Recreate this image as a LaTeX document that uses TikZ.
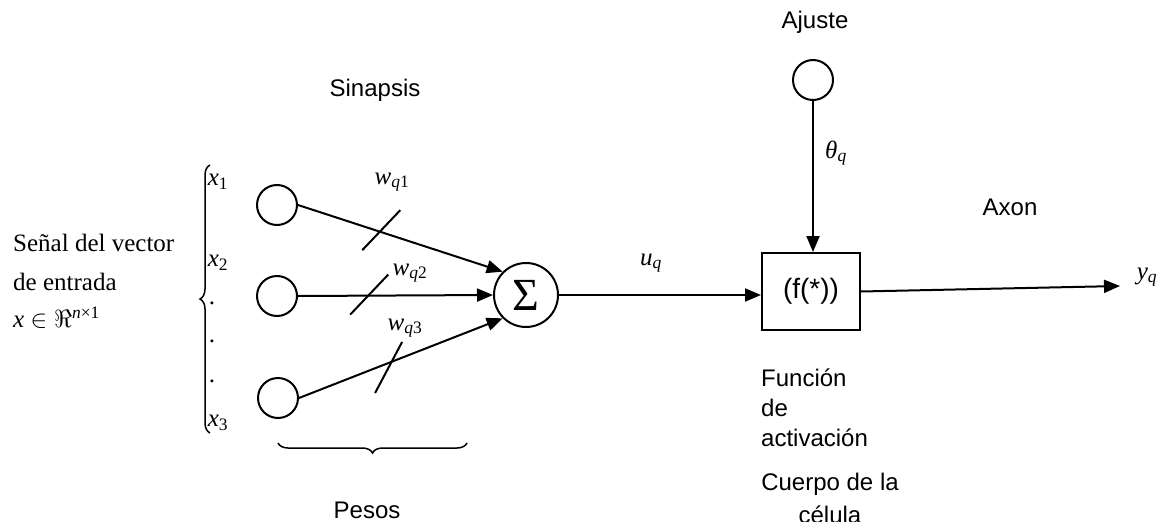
\documentclass[tikz,border=0pt]{standalone}
\usepackage{fontspec}
\setmainfont{Liberation Serif}
\setsansfont{Liberation Sans}
\usetikzlibrary{arrows.meta,decorations.pathreplacing,calc}

% italic variable with a subscript
\newcommand{\sv}[2]{\textit{#1}\textsubscript{#2}}

\begin{document}
\begin{tikzpicture}[x=1pt,y=-1pt,
  wire/.style={line width=2pt},
  link/.style={wire,-{Triangle[length=16pt,width=13pt]}},
  unit/.style={circle,draw,line width=2pt,minimum size=40pt,inner sep=0pt},
  sumnode/.style={circle,draw,line width=2pt,minimum size=64pt,inner sep=0pt,
    font=\fontsize{46}{50}\selectfont},
  actbox/.style={rectangle,draw,line width=2pt,minimum width=98pt,minimum height=77pt,
    inner sep=0pt,font=\sffamily\fontsize{28}{32}\selectfont},
  lbl/.style={font=\sffamily\fontsize{24}{30}\selectfont,inner sep=0pt},
  mlbl/.style={font=\fontsize{25}{38}\selectfont,inner sep=0pt},
  slash/.style={line width=2pt},
  bracel/.style={line width=1.5pt,decorate,decoration={brace,amplitude=10pt}}]

\useasboundingbox (0,0) rectangle (1170,522);
\clip (0,0) rectangle (1170,522);

% input signal description
\node[mlbl,anchor=west] (sig1) at (13,243) {Señal del vector};
\node[mlbl,anchor=west] (sig2) at (13,282) {de entrada};
\node[mlbl,anchor=west] (sig3) at (13,318) {\textit{x} $\in\Re$\textsuperscript{\textit{n}×1}};

% input vector components
\draw[bracel] (210,433) -- (210,165);
\node[mlbl] (x1) at (218,182) {\sv{x}{1}};
\node[mlbl] (x2) at (218,263) {\sv{x}{2}};
\node[mlbl] (d1) at (212,303) {.};
\node[mlbl] (d2) at (212,341) {.};
\node[mlbl] (d3) at (212,381) {.};
\node[mlbl] (x3) at (218,423) {\sv{x}{3}};

% input units
\node[unit] (c1) at (277,205) {};
\node[unit] (c2) at (277,296) {};
\node[unit] (c3) at (278,398) {};

% summing junction
\node[sumnode] (s) at (526,295) {Σ};

% synapses with weights
\draw[link] (c1.east) -- coordinate[pos=0.407] (m1) (s.north west);
\draw[link] (c2.east) -- coordinate[pos=0.365] (m2) (s.west);
\draw[link] (c3.east) -- coordinate[pos=0.44] (m3) (s.south west);
\draw[slash] ($(m1)+(-19,18)$) -- ($(m1)+(19,-22)$);
\draw[slash] ($(m2)+(-19,19)$) -- ($(m2)+(19,-21)$);
\draw[slash] ($(m3)+(-13.5,30)$) -- ($(m3)+(13.5,-21)$);
\node[mlbl] (w1) at (392,182) {\sv{w}{\textit{q}1}};
\node[mlbl] (w2) at (410,273) {\sv{w}{\textit{q}2}};
\node[mlbl] (w3) at (405,328) {\sv{w}{\textit{q}3}};

\node[lbl] (sin) at (375,90) {Sinapsis};
\draw[bracel] (467,443) -- (278,443);
\node[lbl] (pes) at (367,510) {Pesos};

% activation block and bias
\node[actbox] (box) at (811,291.5) {(f(*))\hspace{18pt}};
\node[unit] (aj) at (813,80) {};
\node[lbl] (ajl) at (815,22) {Ajuste};
\draw[link] (aj.south) -- (aj.south |- box.north);
\node[mlbl] (th) at (836,153) {\sv{θ}{\textit{q}}};

\draw[link] (s.east) -- (s.east -| box.west);
\node[mlbl] (uq) at (651,263) {\sv{u}{\textit{q}}};

% output
\coordinate (yend) at (1120,286);
\draw[link] (box.east) -- (yend);
\node[mlbl] (yq) at (1147,277) {\sv{y}{\textit{q}}};
\node[lbl] (axon) at (1010,207) {Axon};

\node[lbl,align=left,anchor=west] (fun) at (761,408) {Función\\de\\activación};
\node[lbl,align=center,font=\sffamily\fontsize{24}{33}\selectfont] (cue) at (830,498) {Cuerpo de la\\célula};
\end{tikzpicture}
\end{document}
